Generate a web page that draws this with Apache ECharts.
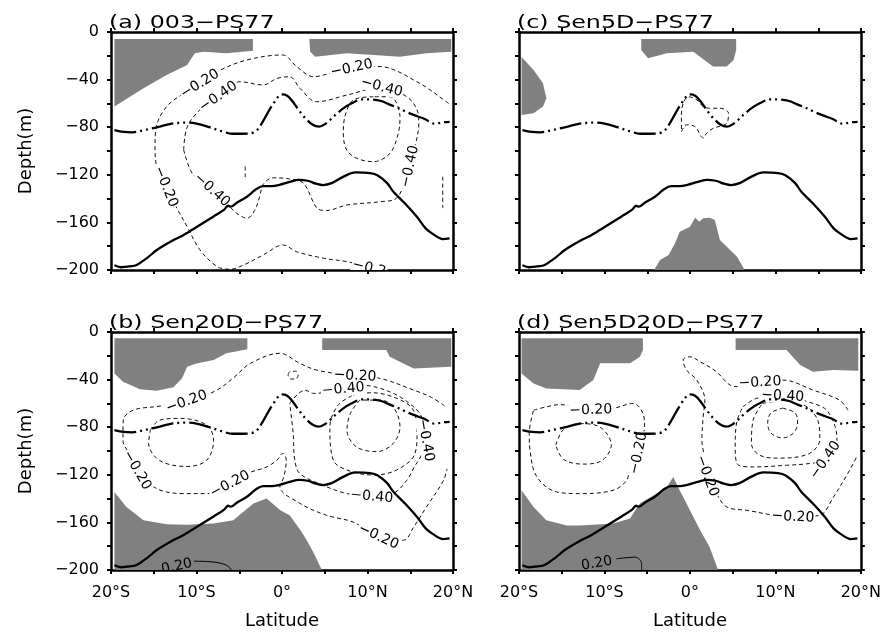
<!DOCTYPE html>
<html><head><meta charset="utf-8">
<script src="https://cdn.jsdelivr.net/npm/echarts@6/dist/echarts.min.js"></script>
<style>html,body{margin:0;padding:0;background:#fff}#c{width:884px;height:635px}</style>
</head><body><div id="c"></div>
<script>
// ---------- shared data ----------
const panelTitles = ['(a) 003\u2212PS77', '(c) Sen5D\u2212PS77', '(b) Sen20D\u2212PS77', '(d) Sen5D20D\u2212PS77'];
const latLabelTicks = [-20, -10, 0, 10, 20];
const depthLabelTicks = [0, -40, -80, -120, -160, -200];
// thick dash-dot-dot line (same in all panels)
const upperLine = [[-19.6,-82.4],[-18.5,-84],[-17.5,-84.3],[-16.5,-83],[-15.5,-81.5],[-14.3,-79.5],[-12.9,-77],[-11.1,-76.2],[-10,-77],[-8.5,-80],[-7,-83.5],[-5.8,-85.5],[-3.9,-85.3],[-3,-83],[-2.3,-76],[-1.6,-67],[-1,-60],[-0.4,-54],[0,-52.4],[0.6,-53.5],[1.2,-58],[2,-66],[2.8,-73],[3.6,-78],[4.3,-79.6],[5,-77.5],[5.6,-74],[6.5,-68],[7.5,-62.5],[8.4,-59],[9.3,-56.6],[10.6,-56.8],[11.6,-58],[12.6,-61],[13.5,-63.5],[14.5,-67],[15.9,-71],[16.8,-73.5],[17.5,-76.5],[18,-77],[18.7,-76],[19.6,-75.5]];
// thick solid line (same in all panels)
const lowerLine = [[-19.6,-196],[-18.8,-197.7],[-17.8,-197],[-17,-195.8],[-15.8,-190],[-14.6,-183],[-13,-176],[-11.5,-170.5],[-9.8,-163],[-8,-155],[-6.8,-149.5],[-6.3,-146],[-6,-146.8],[-5.2,-143],[-4.1,-138.4],[-3,-132],[-2.2,-129.5],[-1.2,-129.6],[-0.2,-128.3],[0.9,-126],[2,-124.2],[3,-125],[4,-127.5],[4.8,-128.6],[5.8,-127],[7.2,-121.5],[8.6,-118],[10.3,-118.6],[11.2,-120.5],[12.3,-127],[13,-134],[14.5,-145],[15.8,-155.5],[16.8,-165],[17.8,-170.5],[18.8,-174],[19.6,-173.4]];

// ---------- panel (a) ----------
const aShade = [
  [[-19.6,-5.9],[-3.4,-5.9],[-3.4,-15.7],[-6.5,-17.9],[-9.2,-16.5],[-10.2,-17.9],[-11.1,-27.7],[-13.5,-36.1],[-16.2,-47.3],[-18.2,-56.3],[-19.6,-62.7]],
  [[3.2,-5.9],[19.8,-5.9],[19.8,-16.5],[16.9,-17.9],[13.8,-20.7],[7.6,-17.9],[3.9,-20.7],[3.3,-16.5]]
];
const aDashed = [
  [[19.5,-60],[18.9,-57],[17,-47],[15.4,-40.3],[13.5,-33],[11.5,-29],[8.15,-30.5],[5.5,-35],[3.7,-37.6],[1.7,-29],[0.1,-19.3],[-4.1,-23.5],[-7.6,-33.4],[-9.6,-43.7],[-11.8,-53],[-13.5,-62.7],[-14.7,-79.6],[-14.85,-96.4],[-14.6,-115],[-13.6,-130],[-12.3,-148],[-11.1,-163.6],[-9.6,-183],[-7.6,-197],[-6.1,-199.4],[-4.5,-195.8],[-2.2,-187.4],[0.15,-179],[1.7,-184.6],[4.8,-190],[7.6,-193],[10,-197],[12,-201]],
  [[-11.5,-99],[-11.1,-80],[-9.6,-65.5],[-7.45,-54.4],[-4.9,-41.8],[-2.2,-44.5],[-0.6,-39],[0.9,-37.6],[2.1,-47.3],[4.06,-58.6],[7.6,-53],[11.66,-46.5],[14.6,-54.4],[15.8,-65.5],[16,-76.7],[15.6,-95],[14.97,-111],[14.4,-124.4],[13.4,-139.7],[11.5,-142.6],[7.6,-145.4],[5.2,-150],[4.1,-148],[2.5,-127],[0.9,-123.5],[-1,-122.5],[-2.2,-128],[-2.6,-138],[-3.2,-150],[-4.1,-156.5],[-5.3,-152.4],[-6.1,-146.8],[-8.2,-132.8],[-10.4,-120],[-11.5,-99]],
  [[10.68,-54.4],[8.35,-57.1],[7.4,-70],[7.17,-85.1],[7.57,-99.2],[8.74,-106.1],[10.68,-109],[12.63,-101.9],[13.6,-85.1],[13.8,-71.2],[12.63,-54.4],[10.68,-54.4]],
  [[-4.3,-113],[-4.3,-122]],
  [[18.8,-121.6],[18.8,-148]]
];
const aLabels = [[-9.6,-43.7,'\u22120.20'],[-7.45,-54.4,'\u22120.40'],[8.15,-30.5,'\u22120.20'],[11.66,-46.5,'\u22120.40'],[14.97,-113,'\u22120.40'],[-13.6,-130,'\u22120.20'],[-8.2,-132.8,'\u22120.40'],[10.2,-198.5,'\u22120.2']];
const aLabelRot = [32, 35, 12, -15, 78, -68, -42, -14];

// ---------- panel (c) ----------
const cShade = [
  [[-19.7,-21],[-18.3,-32],[-17.2,-43],[-16.8,-55.7],[-17.2,-62.7],[-18.3,-68.3],[-19.7,-69.7]],
  [[-5.7,-5.9],[5.4,-5.9],[5.4,-15.1],[5.1,-23.5],[4.3,-29],[2.7,-29],[1.4,-22],[0.4,-16.5],[-2.7,-17.9],[-4.9,-22],[-5.7,-15.1]],
  [[-4.2,-200],[-3.5,-191.6],[-2.5,-187.4],[-1.75,-177.6],[-1.2,-167.8],[0,-163.6],[0.6,-156],[1.1,-159.4],[1.55,-156.6],[2.3,-156],[2.9,-158],[3.5,-174.8],[4.3,-180.4],[5.5,-188.8],[6.4,-200]]
];
const cDashed = [
  [[-1,-83.8],[-0.4,-78],[0.6,-79.6],[1.55,-89],[1.95,-85],[2.7,-81],[4.3,-76.7],[4.5,-68.3],[3.5,-64.1],[2.3,-64.1],[1.55,-62.7],[0.8,-57],[-0.2,-54.4],[-0.8,-60],[-1,-71.2],[-1,-83.8]]
];
const cLabels = [];
const cLabelRot = [];

// ---------- panel (b) ----------
const bShade = [
  [[-19.6,-5.3],[-4.05,-5.3],[-4.05,-14.6],[-6.5,-17.9],[-8,-23.6],[-10,-26.4],[-11.1,-29.2],[-11.7,-39],[-12.7,-46.5],[-14.65,-49.4],[-16.6,-48.2],[-18.6,-41.8],[-19.6,-34.8]],
  [[4.7,-5.3],[19.8,-5.3],[19.8,-29.2],[15.4,-30.6],[14.2,-26.4],[12.6,-20.8],[12.2,-15.1],[4.7,-15.1]],
  [[-19.6,-200],[-19.6,-134.4],[-18.2,-147],[-16.2,-158.2],[-13.5,-161.6],[-11.1,-161.9],[-8,-161],[-5.7,-158.2],[-3.35,-144.2],[-1.8,-140],[-0.2,-149.8],[0.9,-154],[1.3,-158],[2.1,-166],[2.9,-175],[3.8,-187],[4.65,-200]]
];
const bDashed = [
  [[19,-62],[17.5,-55],[15.4,-48.8],[11.5,-39],[8.54,-37],[4.06,-32],[2.1,-26.4],[-0.25,-17.9],[-3.7,-26.4],[-5.6,-38],[-7.6,-48.8],[-11.15,-58.7],[-14.5,-62.5],[-17.4,-65.7],[-18.56,-74],[-18.6,-91],[-17.6,-105],[-16.96,-116.2],[-14.65,-131.6],[-11.5,-135.8],[-8.8,-135.8],[-6.08,-128],[-4.1,-119],[-1.8,-113.4],[-0.6,-107.7],[0.1,-102],[0.5,-108],[0.2,-122],[-0.25,-130],[2.1,-144],[5.2,-154],[8.3,-159.7],[11.27,-172],[14.2,-175],[15.4,-163.9],[16.9,-147],[18.9,-124.6],[19.3,-115]],
  [[-15.4,-82.5],[-14.3,-74],[-11.9,-72.6],[-8.8,-78.3],[-8,-90.9],[-8.8,-107.7],[-11.1,-113],[-14.3,-108],[-15.6,-93.5],[-15.4,-82.5]],
  [[0.9,-60],[2.7,-48.8],[3.7,-51.6],[7.17,-48.1],[9.1,-44.6],[12.6,-50.2],[15.4,-62.9],[16.5,-74],[16.8,-91],[16.2,-105],[15.5,-113],[14.6,-124.6],[13,-135.8],[10.5,-138.4],[7.6,-135.8],[4.8,-128.8],[2.1,-119],[1.5,-108],[1.3,-85],[0.9,-60]],
  [[8.3,-53],[10.5,-51],[13.5,-56],[15.3,-65],[15.8,-85],[15.5,-103],[13.4,-116],[10.7,-120.2],[7.6,-116],[6,-107.7],[5.6,-80],[6.5,-62],[8.3,-53]],
  [[9.1,-57.2],[8,-68.4],[7.6,-82.5],[8.7,-96.5],[11.1,-100.5],[13,-93.7],[13.8,-79.7],[13,-62.9],[11.5,-57.2],[9.1,-57.2]],
  [[0.7,-36],[1.0,-33],[1.6,-33],[1.9,-36],[1.6,-39.5],[1.0,-39.5],[0.7,-36]]
];
const bSolid = [[[-10.3,-192.6],[-8,-193.3],[-6.5,-196],[-5.9,-200]]];
const bLabels = [[-11.15,-58.7,'\u22120.20'],[8.54,-37,'\u22120.20'],[7.17,-48.1,'\u22120.40'],[16.8,-91,'\u22120.40'],[-16.96,-116.2,'\u22120.20'],[-6.08,-128,'\u22120.20'],[10.5,-138.4,'\u22120.40'],[11.27,-172,'\u22120.20'],[-12.3,-197,'0.20']];
const bLabelRot = [20, -3, 5, -80, -60, 28, -5, -25, 12];

// ---------- panel (d) ----------
const dShade = [
  [[-19.7,-5.3],[-5.5,-5.3],[-5.5,-15.1],[-5.85,-20.8],[-7,-26.3],[-10.5,-26.3],[-11.3,-40.4],[-12.9,-48.8],[-16.8,-47.4],[-18.3,-43.2],[-19.7,-34.8]],
  [[5.35,-5.3],[19.7,-5.3],[19.7,-32.6],[16.8,-32],[14.4,-33.4],[12.9,-27.8],[11.3,-15.1],[5.35,-15.1]],
  [[-19.7,-200],[-19.7,-133],[-18.3,-147],[-16.8,-158.2],[-14.4,-162.5],[-12.9,-162.5],[-9,-161],[-7,-156.8],[-6.4,-149.8],[-5.85,-144.2],[-3.9,-135.8],[-2.7,-130.2],[-1.95,-121.8],[-1.2,-133],[0,-149.8],[1.2,-166.7],[2.3,-180.7],[3.3,-200]]
];
const dDashed = [
  [[-18.3,-65.7],[-16.8,-62.9],[-15.2,-61],[-11.6,-65.7],[-9,-64.2],[-6.6,-60],[-5.5,-68.4],[-5.3,-79.7],[-5.9,-95],[-6.2,-105],[-7,-112],[-7.4,-124.6],[-9,-133],[-12.9,-135.8],[-15.6,-134.4],[-17.9,-121.8],[-18.7,-100],[-18.8,-85],[-18.3,-65.7]],
  [[-15.7,-95],[-14.8,-82],[-12.9,-77],[-10.5,-80],[-9.2,-95],[-10.3,-108],[-12.5,-111],[-14.8,-107],[-15.7,-95]],
  [[18.5,-65.7],[17.5,-57.2],[14.4,-48.8],[10.9,-40.4],[8.19,-42.5],[5.85,-46],[4.7,-44.6],[3.1,-33.4],[1.2,-25],[0,-20.8],[-0.8,-23.6],[-0.4,-32],[0.8,-40.4],[1.75,-57.2],[1.55,-71.3],[1.4,-91],[1.7,-105],[2,-121],[3.1,-135.8],[4.3,-147],[6.6,-149.8],[12.05,-155.5],[15.2,-154],[16.8,-138.6],[18.7,-116],[19.5,-105]],
  [[6.2,-62.9],[7.8,-55.8],[10.86,-53.9],[14.4,-60],[16,-65.7],[17,-79.7],[17.2,-91],[15.85,-107.7],[14,-110.5],[11.3,-112],[7.4,-113.4],[5.5,-110.5],[5.3,-95],[5.5,-75],[6.2,-62.9]],
  [[8.5,-60],[11,-58],[13.5,-62],[15,-75],[15.2,-90],[14,-102],[10.5,-106],[8.2,-103.7],[7.2,-93.7],[7.4,-74],[8.5,-60]],
  [[10.85,-64],[12.3,-68],[12.6,-76.5],[12.1,-85],[10.85,-89],[9.5,-85],[9.1,-76.5],[9.5,-68],[10.85,-64]]
];
const dSolid = [[[-8.6,-190.6],[-6.4,-189.2],[-5.65,-194.7],[-5.65,-200]]];
const dLabels = [[-11.6,-65.7,'\u22120.20'],[-6,-102,'\u22120.20'],[2,-121,'\u22120.20'],[8.19,-42.5,'\u22120.20'],[10.86,-53.9,'\u22120.40'],[15.85,-107.7,'\u22120.40'],[12.05,-155.5,'\u22120.20'],[-10.9,-194.5,'0.20']];
const dLabelRot = [2, 78, -70, 3, -3, 55, -3, 10];

// ---------- build chart ----------
const FONT = 'DejaVu Sans';
const panels = [
  {left:111, top:32, shade:aShade, dashed:aDashed, solid:[], labels:aLabels, rot:aLabelRot, bottomRow:false, leftCol:true},
  {left:519, top:32, shade:cShade, dashed:cDashed, solid:[], labels:cLabels, rot:cLabelRot, bottomRow:false, leftCol:false},
  {left:111, top:332, shade:bShade, dashed:bDashed, solid:bSolid, labels:bLabels, rot:bLabelRot, bottomRow:true, leftCol:true},
  {left:519, top:332, shade:dShade, dashed:dDashed, solid:dSolid, labels:dLabels, rot:dLabelRot, bottomRow:true, leftCol:false}
];
const latFmt = v => latLabelTicks.indexOf(v) < 0 ? '' : (v === 0 ? '0\u00b0' : (v < 0 ? (-v) + '\u00b0S' : v + '\u00b0N'));
const depFmt = v => depthLabelTicks.indexOf(v) < 0 ? '' : (v === 0 ? '0' : '\u2212' + (-v));
const axLine = {onZero:false, lineStyle:{color:'#000', width:2.5}};
const axTick = {inside:false, length:4, lineStyle:{color:'#000', width:2}};

const grid = [], xAxis = [], yAxis = [], series = [], graphic = [];
panels.forEach((p, i) => {
  grid.push({left:p.left, top:p.top, width:342, height:238});
  xAxis.push({gridIndex:i, type:'value', min:-20, max:20, interval:5, position:'bottom', axisLine:axLine, axisTick:axTick, splitLine:{show:false},
    axisLabel:{show:p.bottomRow, formatter:latFmt, fontFamily:FONT, fontSize:16, color:'#000', margin:15},
    name:p.bottomRow ? 'Latitude' : '', nameLocation:'middle', nameGap:42, nameTextStyle:{fontFamily:FONT, fontSize:18, color:'#000'}});
  xAxis.push({gridIndex:i, type:'value', min:-20, max:20, interval:5, position:'top', axisLine:axLine, axisTick:axTick, splitLine:{show:false}, axisLabel:{show:false}});
  yAxis.push({gridIndex:i, type:'value', min:-200, max:0, interval:20, position:'left', axisLine:axLine, axisTick:axTick, splitLine:{show:false},
    axisLabel:{show:p.leftCol, formatter:depFmt, fontFamily:FONT, fontSize:16, color:'#000', margin:12},
    name:p.leftCol ? 'Depth(m)' : '', nameLocation:'middle', nameGap:76, nameTextStyle:{fontFamily:FONT, fontSize:18, color:'#000'}});
  yAxis.push({gridIndex:i, type:'value', min:-200, max:0, interval:20, position:'right', axisLine:axLine, axisTick:axTick, splitLine:{show:false}, axisLabel:{show:false}});
  const xi = 2*i, yi = 2*i;
  p.shade.forEach(poly => {
    series.push({type:'custom', xAxisIndex:xi, yAxisIndex:yi, z:1, silent:true, data:[[0,0]],
      renderItem:(params, api) => ({type:'polygon', shape:{points:poly.map(q => api.coord(q))}, style:{fill:'#808080'}})});
  });
  p.dashed.forEach(c => {
    series.push({type:'line', xAxisIndex:xi, yAxisIndex:yi, z:2, data:c, showSymbol:false, smooth:0.35, silent:true,
      lineStyle:{color:'#111', width:1, type:[4,3]}});
  });
  p.solid.forEach(c => {
    series.push({type:'line', xAxisIndex:xi, yAxisIndex:yi, z:2, data:c, showSymbol:false, smooth:0.35, silent:true,
      lineStyle:{color:'#000', width:1}});
  });
  if (p.labels.length) {
    const labs = p.labels, rots = p.rot;
    series.push({type:'custom', xAxisIndex:xi, yAxisIndex:yi, z:3, silent:true, clip:true,
      data:labs.map(l => [l[0], l[1]]),
      renderItem:(params, api) => {
        const k = params.dataIndex, pt = api.coord([api.value(0), api.value(1)]);
        const txt = labs[k][2], onShade = txt.charAt(0) === '0';
        return {type:'text', x:pt[0], y:pt[1], rotation:rots[k] * Math.PI / 180,
          style:{text:txt, fontFamily:FONT, fontSize:14, fill:'#000', align:'center', verticalAlign:'middle',
            backgroundColor:onShade ? 'transparent' : '#fff', padding:[0,1]}};
      }});
  }
  series.push({type:'line', xAxisIndex:xi, yAxisIndex:yi, z:4, data:upperLine, showSymbol:false, smooth:0.35, silent:true,
    lineStyle:{color:'#000', width:2.3, type:[22,4,2,4,2,4]}});
  series.push({type:'line', xAxisIndex:xi, yAxisIndex:yi, z:4, data:lowerLine, showSymbol:false, smooth:0.35, silent:true,
    lineStyle:{color:'#000', width:2.3}});
  graphic.push({type:'text', x:p.left - 2, y:p.top - 9, scaleX:1.32, z:10,
    style:{text:panelTitles[i], fontFamily:FONT, fontSize:18, fill:'#000', verticalAlign:'middle', align:'left'}});
});

const chart = echarts.init(document.getElementById('c'), null, {renderer:'canvas'});
chart.setOption({animation:false, backgroundColor:'#fff', grid, xAxis, yAxis, series, graphic});
</script></body></html>
